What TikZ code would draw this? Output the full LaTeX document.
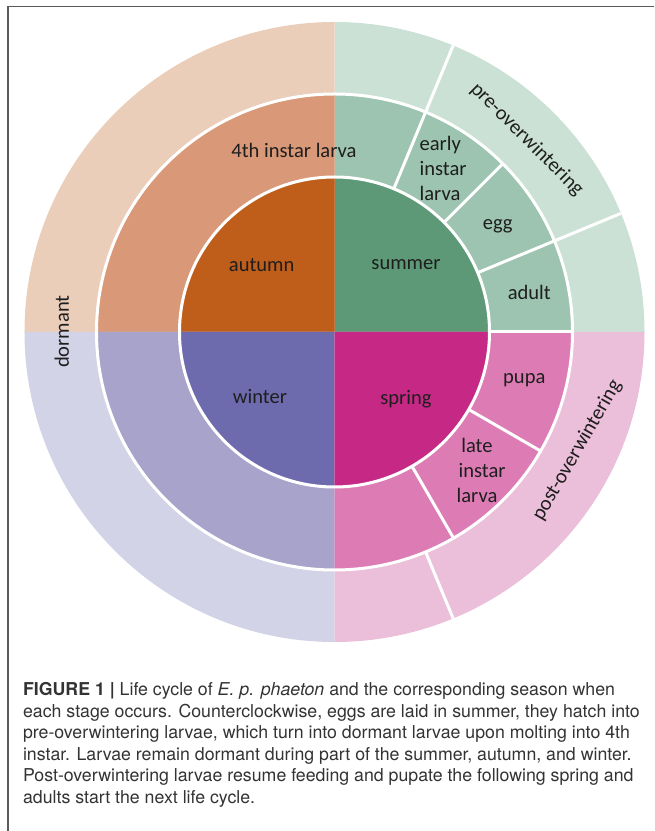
\documentclass[tikz,border=0pt]{standalone}
\usepackage{fontspec}
\setmainfont{Carlito}
\newfontfamily\capfont{TeX Gyre Heros}
\definecolor{sumin}{HTML}{5D9977}
\definecolor{summid}{HTML}{9CC4B0}
\definecolor{sumout}{HTML}{CCE1D6}
\definecolor{autin}{HTML}{BF5D1B}
\definecolor{autmid}{HTML}{D99978}
\definecolor{autout}{HTML}{EACEBA}
\definecolor{winin}{HTML}{6D6AAD}
\definecolor{winmid}{HTML}{A8A3CB}
\definecolor{winout}{HTML}{D3D3E7}
\definecolor{sprin}{HTML}{C62885}
\definecolor{sprmid}{HTML}{DD7CB4}
\definecolor{sprout}{HTML}{EBBED9}
\definecolor{labtext}{HTML}{1E1E1E}
\definecolor{captext}{HTML}{333333}
\definecolor{framegray}{HTML}{5A5A5A}

\begin{document}
\begin{tikzpicture}[x=0.02cm,y=0.02cm,
	sep/.style={white,line width=0.06cm},
	lab/.style={text=labtext,inner sep=0pt,font=\fontsize{11.7}{14.2}\selectfont},
	captionbox/.style={text=captext,inner sep=0pt,align=left,font=\capfont\fontsize{10.1}{12.24}\selectfont}]
	\useasboundingbox (-334.5,-499) rectangle (319.5,332);
	\draw[framegray,line width=0.03cm] (-326.5,-499) |- (319.5,325.5);
	\foreach \q/\c in {0/sum,90/aut,180/win,270/spr} {
		\fill[\c out] (0,0) -- (\q:310) arc[start angle=\q,delta angle=90,radius=310] -- cycle;
		\fill[\c mid] (0,0) -- (\q:238) arc[start angle=\q,delta angle=90,radius=238] -- cycle;
		\fill[\c in] (0,0) -- (\q:155) arc[start angle=\q,delta angle=90,radius=155] -- cycle;
	}
	\draw[sep] (0,0) circle[radius=155];
	\draw[sep] (0,0) circle[radius=238];
	\foreach \a/\r/\R in {67.5/155/310, 45/155/238, 22.5/155/310, 0/155/238, -30/155/238, -60/155/238, -67.5/238/310}
		\draw[sep] (\a:\r) -- (\a:\R);
	\node[lab] (autumn) at (-72.8,67) {autumn};
	\node[lab] (summer) at (71.5,67) {summer};
	\node[lab] (winter) at (-74.5,-64.7) {winter};
	\node[lab] (spring) at (71.5,-67) {spring};
	\node[lab] (fourth) at (-40.5,181.3) {4th instar larva};
	\node[lab,align=left,anchor=west] (early) at (84.8,164) {early\\instar\\larva};
	\node[lab] (egg) at (163.2,105.3) {egg};
	\node[lab] (adult) at (194.8,39.3) {adult};
	\node[lab] (pupa) at (189.8,-48) {pupa};
	\node[lab,align=center] (late) at (142.5,-138.5) {late\\\hspace*{0.5em}instar\\larva};
	\node[lab,rotate=-45] (pre) at (45:272) {pre-overwintering};
	\node[lab,rotate=60] (post) at (-26:270) {post-overwintering};
	\node[lab,rotate=90] (dormant) at (-272.8,0.3) {dormant};
	\node[captionbox,anchor=north west] (caption) at (-311.8,-350) {\textbf{FIGURE 1 |} Life cycle of \textit{E. p. phaeton} and the corresponding season when\\
		each stage occurs. Counterclockwise, eggs are laid in summer, they hatch into\\
		pre-overwintering larvae, which turn into dormant larvae upon molting into 4th\\
		instar. Larvae remain dormant during part of the summer, autumn, and winter.\\
		Post-overwintering larvae resume feeding and pupate the following spring and\\
		adults start the next life cycle.};
\end{tikzpicture}
\end{document}
